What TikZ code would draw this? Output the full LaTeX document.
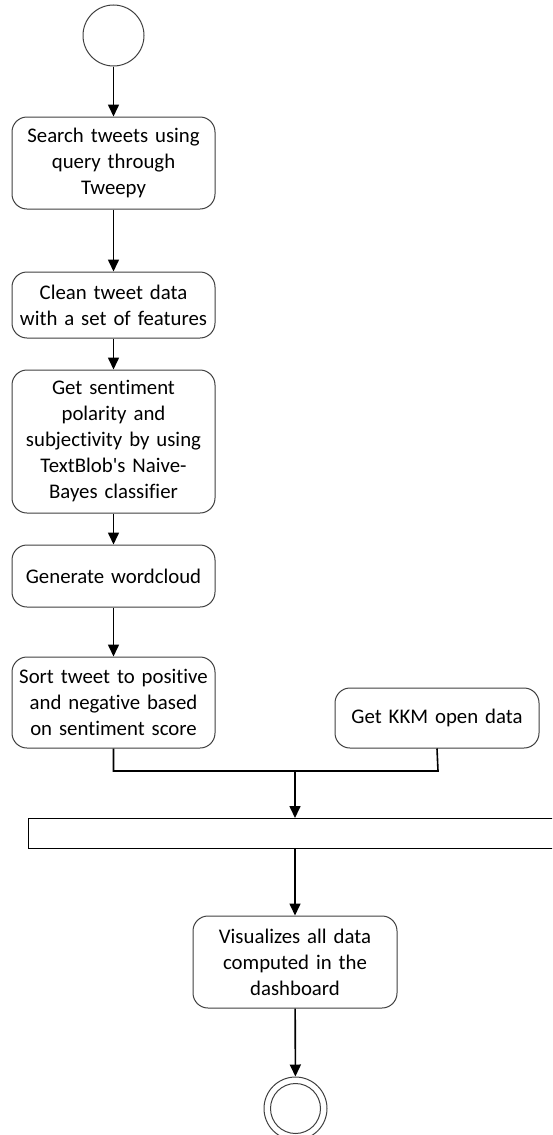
\documentclass[tikz,border=0pt]{standalone}
\usepackage{fontspec}
\setmainfont{Carlito}[Ligatures={NoCommon}]
\usetikzlibrary{arrows.meta}
\begin{document}
\begin{tikzpicture}[x=1pt,y=-1pt,
  actbox/.style={draw=black!75, line width=1pt, rounded corners=15pt, fill=white,
    minimum width=203pt, text width=200pt, align=center, inner sep=0pt,
    font=\fontsize{20.8pt}{26pt}\selectfont},
  flow/.style={draw=black, line width=1.6pt, -{Triangle[length=12pt,width=11pt]}},
  plain/.style={draw=black, line width=1.6pt},
  startnode/.style={circle, draw=black!75, line width=1pt, minimum size=61pt, inner sep=0pt}]
\clip (0,0) rectangle (552,1135);
\useasboundingbox (0,0) rectangle (552,1135);
\node[startnode] (start) at (113.5,35.5) {};
\node[actbox, minimum height=92pt] (b1) at (113.5,163) {Search tweets using\\query through\\Tweepy};
\node[actbox, minimum height=66pt] (b2) at (113.5,305) {Clean tweet data\\with a set of features};
\node[actbox, minimum height=143pt] (b3) at (113.5,441.5) {Get sentiment\\polarity and\\subjectivity by using\\TextBlob\textquotesingle s Naive-\\Bayes classifier};
\node[actbox, minimum height=62pt] (b4) at (113.5,576) {Generate wordcloud};
\node[actbox, minimum height=91pt] (b5) at (113.5,702.5) {Sort tweet to positive\\and negative based\\on sentiment score};
\node[actbox, minimum height=60pt, minimum width=204pt] (kkm) at (437,718) {Get KKM open data};
\node[draw=black, line width=1pt, minimum width=560pt, minimum height=30pt, inner sep=0pt, anchor=north west] (bar) at (28,818) {};
\node[actbox, minimum height=92pt, minimum width=204pt] (vis) at (295,962) {Visualizes all data\\computed in the\\dashboard};
\node[circle, draw=black!75, line width=1pt, minimum size=63pt, inner sep=0pt] (end) at (295.5,1108.5) {};
\node[circle, draw=black!75, line width=1pt, minimum size=50pt, inner sep=0pt] (endin) at (295.5,1108.5) {};
\coordinate (jl) at (113.5,771);
\coordinate (jr) at (438,771);
\coordinate (jm) at (295,771);
\coordinate (bartop) at (295,818);
\coordinate (barbot) at (295,848);
\draw[flow] (start) -- (b1);
\draw[flow] (b1) -- (b2);
\draw[flow] (b2) -- (b3);
\draw[flow] (b3) -- (b4);
\draw[flow] (b4) -- (b5);
\draw[plain] (b5.south) -- (jl) -- (jr) -- (kkm.south);
\draw[flow] (jm) -- (bartop);
\draw[flow] (barbot) -- (vis.north);
\draw[flow] (vis) -- (end);
\end{tikzpicture}
\end{document}
